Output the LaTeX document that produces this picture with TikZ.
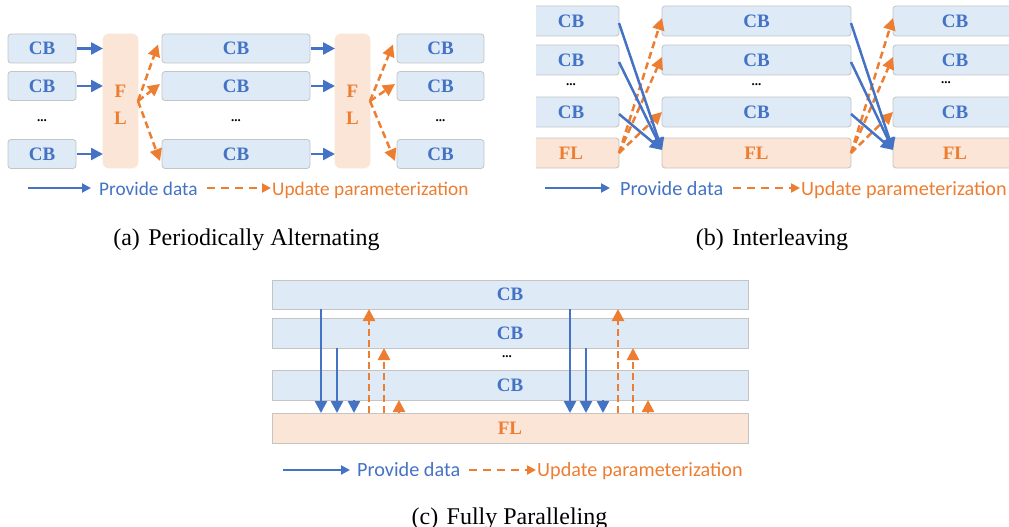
\documentclass[tikz,border=0pt]{standalone}
\usepackage{fontspec}
\setmainfont{Liberation Serif}
\newfontfamily\legendfont{Carlito}
\usetikzlibrary{arrows.meta}
\definecolor{cbblue}{HTML}{4472C4}
\definecolor{flor}{HTML}{ED7D31}
\definecolor{cbfill}{HTML}{DEEBF7}
\definecolor{flfill}{HTML}{FBE5D6}
\definecolor{edge}{HTML}{C4C4C4}

\begin{document}
\begin{tikzpicture}[x=1pt,y=-1pt,
  box/.style={draw=edge, line width=0.8pt, inner sep=0pt, outer sep=0pt,
    font=\fontsize{19}{22}\selectfont\bfseries},
  cb/.style={box, fill=cbfill, text=cbblue},
  fl/.style={box, fill=flfill, text=flor},
  rbox/.style={rounded corners=3pt},
  fltext/.style={inner sep=0pt, text=flor, align=center,
    font=\fontsize{19}{27}\selectfont\bfseries},
  data/.style={cbblue, line width=2.5pt, -{Triangle[length=12pt,width=12pt]}},
  upd/.style={flor, line width=2.5pt, dash pattern=on 7pt off 4pt,
    -{Triangle[length=12pt,width=12pt]}},
  legdata/.style={cbblue, line width=2pt, -{Triangle[length=9pt,width=9pt]}},
  legupd/.style={flor, line width=2.2pt, dash pattern=on 8pt off 6pt,
    -{Triangle[length=9pt,width=9pt]}},
  dots/.style={inner sep=0pt, font=\fontsize{13}{13}\selectfont\bfseries},
  legtxt/.style={inner sep=0pt, anchor=base west,
    font=\legendfont\fontsize{20.2}{22}\selectfont},
  legsmall/.style={legtxt, font=\legendfont\fontsize{19.3}{22}\selectfont},
  captext/.style={inner sep=0pt, anchor=base, font=\fontsize{24}{28}\selectfont}
]
\useasboundingbox (0,0) rectangle (1009,527);

% ---------- (a) periodically alternating ----------
\foreach \n/\y in {1/48.5, 2/86, 3/154} {
  \node[cb, rbox, minimum width=68pt, minimum height=29pt] (aL\n) at (42,\y) {CB};
  \node[cb, rbox, minimum width=148pt, minimum height=29pt] (aM\n) at (236,\y) {CB};
  \node[cb, rbox, minimum width=87pt, minimum height=29pt] (aR\n) at (440.5,\y) {CB};
}
\node[dots] (aLd) at (42,121) {...};
\node[dots] (aMd) at (236,121) {...};
\node[dots] (aRd) at (440.5,121) {...};
\node[fl, draw=flfill, rounded corners=6pt, minimum width=35pt, minimum height=134pt]
  (aF1) at (120.5,101) {};
\node[fl, draw=flfill, rounded corners=6pt, minimum width=35pt, minimum height=134pt]
  (aF2) at (352.5,101) {};
\node[fltext] (aF1t) at (120.5,105) {F\\L};
\node[fltext] (aF2t) at (352.5,105) {F\\L};

\foreach \n in {1,2,3} {
  \draw[data, shorten <=1pt] (aL\n.east) -- (aL\n.east -| aF1.west);
  \draw[data, shorten <=1pt] (aM\n.east) -- (aM\n.east -| aF2.west);
}
\draw[upd] (aF1.east) -- ([xshift=-4pt,yshift=4pt]aM1.west);
\draw[upd] (aF1.east) -- ([xshift=-2pt,yshift=2pt]aM2.west);
\draw[upd] (aF1.east) -- ([xshift=-2pt,yshift=-7pt]aM3.west);
\draw[upd] (aF2.east) -- ([xshift=-4pt,yshift=4pt]aR1.west);
\draw[upd] (aF2.east) -- ([xshift=-2pt,yshift=2pt]aR2.west);
\draw[upd] (aF2.east) -- ([xshift=-2pt,yshift=-7pt]aR3.west);

\node[legsmall, text=cbblue] (aPD) at (99,195) {Provide data};
\node[legsmall, text=flor] (aUP) at (272,195) {Update parameterization};
\coordinate (aPs) at (28,188);
\coordinate (aUs) at (207,188);
\draw[legdata] (aPs) -- ([xshift=-8pt]aPs -| aPD.west);
\draw[legupd] (aUs) -- ([xshift=-1pt]aUs -| aUP.west);

\node[captext] (capa) at (246.5,245) {(a)\hspace{0.35em}Periodically Alternating};

% ---------- (b) interleaving ----------
\begin{scope}
\clip (536,0) rectangle (1009,200);
\foreach \n/\y in {1/21, 2/60, 3/112} {
  \node[cb, rbox, minimum width=96pt, minimum height=30pt] (bL\n) at (571,\y) {CB};
  \node[cb, rbox, minimum width=189pt, minimum height=30pt] (bM\n) at (756.5,\y) {CB};
  \node[cb, rbox, minimum width=124pt, minimum height=30pt] (bR\n) at (955,\y) {CB};
}
\node[fl, rbox, minimum width=96pt, minimum height=30pt] (bLF) at (571,153) {FL};
\node[fl, rbox, minimum width=189pt, minimum height=30pt] (bMF) at (756.5,153) {FL};
\node[fl, rbox, minimum width=124pt, minimum height=30pt] (bRF) at (955,153) {FL};
\node[dots] (bLd) at (571,85) {...};
\node[dots] (bMd) at (756.5,85) {...};
\node[dots] (bRd) at (946,83) {...};

\foreach \n/\s in {1/3, 2/3, 3/0} {
  \draw[upd] (bLF.east) -- ([yshift=\s pt]bM\n.west);
  \draw[upd] (bMF.east) -- ([yshift=\s pt]bR\n.west);
}
\foreach \n in {1,2,3} {
  \draw[data] ([yshift=-2pt]bL\n.east) -- ([yshift=-12pt]bMF.north west);
  \draw[data] ([yshift=-2pt]bM\n.east) -- ([yshift=-12pt]bRF.north west);
}
\end{scope}

\node[legtxt, text=cbblue] (bPD) at (620,195) {Provide data};
\node[legtxt, text=flor] (bUP) at (801,195) {Update parameterization};
\coordinate (bPs) at (545,188);
\coordinate (bUs) at (733,188);
\draw[legdata] (bPs) -- ([xshift=-10pt]bPs -| bPD.west);
\draw[legupd] (bUs) -- ([xshift=-1pt]bUs -| bUP.west);

\node[captext] (capb) at (772,245) {(b)\hspace{0.35em}Interleaving};

% ---------- (c) fully paralleling ----------
\node[cb, minimum width=476pt, minimum height=29pt] (c1) at (510,294.5) {CB};
\node[cb, minimum width=476pt, minimum height=30pt] (c2) at (510,333) {CB};
\node[cb, minimum width=476pt, minimum height=30pt] (c3) at (510,385) {CB};
\node[fl, minimum width=476pt, minimum height=30pt] (cF) at (510,428) {FL};
\node[dots] (cd) at (507,357) {...};

\foreach \dx in {0,249} {
  \draw[data] ([xshift=\dx pt]321,0 |- c1.south) -- ([xshift=\dx pt]321,0 |- cF.north);
  \draw[data] ([xshift=\dx pt]337,0 |- c2.south) -- ([xshift=\dx pt]337,0 |- cF.north);
  \draw[data] ([xshift=\dx pt]354,0 |- c3.south) -- ([xshift=\dx pt]354,0 |- cF.north);
  \draw[upd] ([xshift=\dx pt]369,0 |- cF.north) -- ([xshift=\dx pt]369,0 |- c1.south);
  \draw[upd] ([xshift=\dx pt]384,0 |- cF.north) -- ([xshift=\dx pt]384,0 |- c2.south);
  \draw[upd] ([xshift=\dx pt]399,0 |- cF.north) -- ([xshift=\dx pt]399,0 |- c3.south);
}

\node[legtxt, text=cbblue] (cPD) at (357,476) {Provide data};
\node[legtxt, text=flor] (cUP) at (537,476) {Update parameterization};
\coordinate (cPs) at (283,470);
\coordinate (cUs) at (469,470);
\draw[legdata] (cPs) -- ([xshift=-7pt]cPs -| cPD.west);
\draw[legupd] (cUs) -- ([xshift=-1pt]cUs -| cUP.west);

\node[captext] (capc) at (509.5,524) {(c)\hspace{0.35em}Fully Paralleling};
\end{tikzpicture}
\end{document}
